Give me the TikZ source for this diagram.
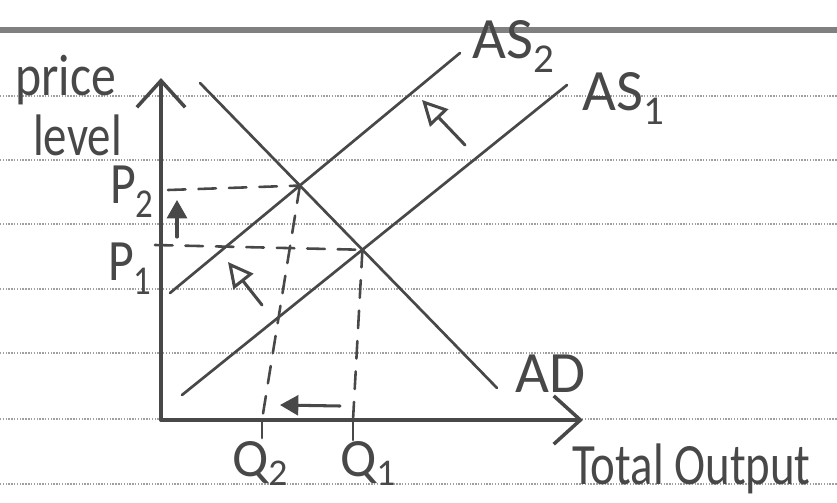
\documentclass[tikz,border=0pt]{standalone}
\usepackage{fontspec}
\usepackage{graphicx}
\setmainfont{Carlito}
\usetikzlibrary{arrows.meta}
\definecolor{pencil}{RGB}{72,72,72}
\definecolor{ruling}{RGB}{160,160,160}
\newcommand{\lo}[1]{\raisebox{-.25em}{\scalebox{.7}{#1}}}

\begin{document}
\begin{tikzpicture}[x=.03cm,y=-.03cm,
      hand/.style={draw=pencil,line width=2.3pt,line cap=round},
      ax/.style={hand,line width=3pt,-{Straight Barb[length=.8cm,width=1.45cm]}},
      guide/.style={hand,line width=2.2pt,dash pattern=on 15pt off 11pt},
      asmove/.style={hand,line width=2.6pt,-{Triangle[open,length=.75cm,width=.75cm]}},
      push/.style={hand,line width=2.6pt,-{Triangle[length=.55cm,width=.6cm]}},
      txt/.style={text=pencil,font=\fontsize{50}{56}\selectfont,
        inner sep=0pt,anchor=base west}]
  \useasboundingbox (0,0) rectangle (837,502);
  % paper
  \foreach \y in {96,160,224,289,353,419,484}
    \draw[ruling,line width=1.2pt,dash pattern=on 1.2pt off 1.2pt] (0,\y) -- (837,\y);
  \draw[gray,line width=4.5pt] (0,30) -- (837,30);
  % axes
  \coordinate (O) at (161,420);
  \coordinate (ytop) at (161,78);
  \coordinate (xend) at (583,420);
  \draw[ax] (O) -- (ytop);
  \draw[ax] (O) -- (xend);
  % curves
  \coordinate (ad1) at (200,83);
  \coordinate (ad2) at (497,388);
  \coordinate (as2lo) at (170,293);
  \coordinate (as2hi) at (460,53);
  \coordinate (as1lo) at (182,395);
  \coordinate (as1hi) at (567,85);
  \draw[hand] (ad1) -- (ad2);
  \draw[hand] (as2lo) -- (as2hi);
  \draw[hand] (as1lo) -- (as1hi);
  \coordinate (E2) at (intersection of ad1--ad2 and as2lo--as2hi);
  \coordinate (E1) at (intersection of ad1--ad2 and as1lo--as1hi);
  % guides
  \coordinate (p2) at (168,190);
  \coordinate (p1) at (155,245);
  \coordinate (q2) at (262,420);
  \coordinate (q1) at (353,420);
  \draw[guide] (p2) -- (E2);
  \draw[guide] (p1) -- (E1);
  \draw[guide] (E2) -- (q2);
  \draw[guide] (E1) -- (q1);
  \draw[hand] (q2) -- ++(0,18);
  \draw[hand] (q1) -- ++(0,20);
  % shift arrows
  \coordinate (s1a) at (465,145);
  \coordinate (s1b) at (422,100);
  \coordinate (s2a) at (262,305);
  \coordinate (s2b) at (228,262);
  \draw[asmove] (s1a) -- (s1b);
  \draw[asmove] (s2a) -- (s2b);
  \coordinate (upa) at (177,237);
  \coordinate (upb) at (177,200);
  \coordinate (lta) at (340,406);
  \coordinate (ltb) at (280,405);
  \draw[push] (upa) -- (upb);
  \draw[push] (lta) -- (ltb);
  % labels
  \node[txt] (price) at (15,95) {\scalebox{.85}[1]{price}};
  \node[txt] (level) at (33,155) {\scalebox{.8}[1]{level}};
  \node[txt] (P2) at (110,203) {\scalebox{.85}[1]{P\lo{2}}};
  \node[txt] (P1) at (108,280) {\scalebox{.85}[1]{P\lo{1}}};
  \node[txt] (AS2) at (472,58) {AS\lo{2}};
  \node[txt] (AS1) at (582,110) {AS\lo{1}};
  \node[txt] (AD) at (515,392) {AD};
  \node[txt] (Q2) at (232,476) {\scalebox{.92}{Q\raisebox{-.18em}{\scalebox{.7}{2}}}};
  \node[txt] (Q1) at (340,476) {\scalebox{.92}{Q\raisebox{-.18em}{\scalebox{.7}{1}}}};
  \node[txt] (total) at (572,484) {\scalebox{.8}[1]{Total Output}};
\end{tikzpicture}
\end{document}
